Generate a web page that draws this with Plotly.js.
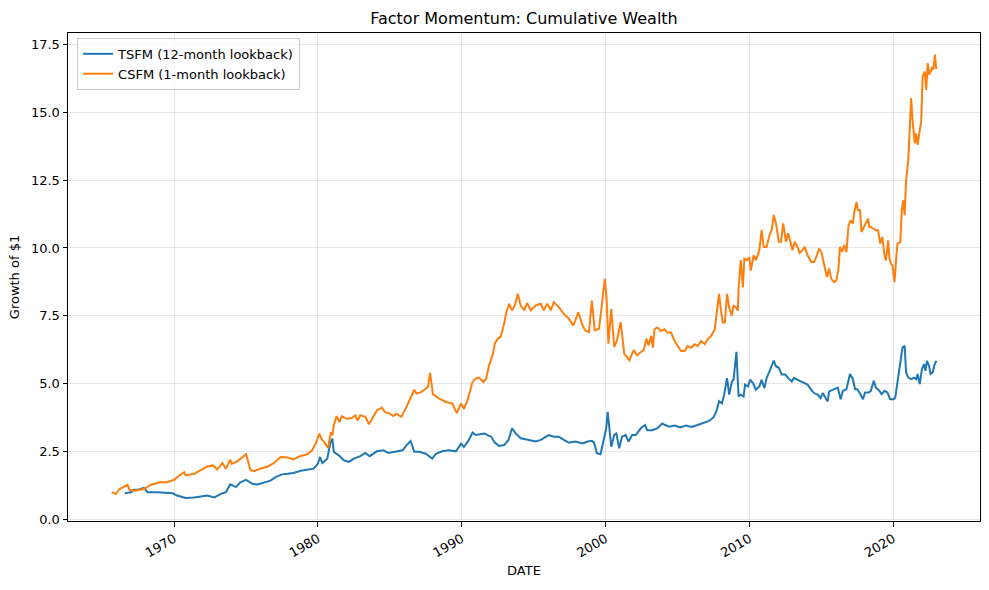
<!DOCTYPE html>
<html>
<head>
<meta charset="utf-8">
<script src="https://cdn.plot.ly/plotly-3.0.1.min.js"></script>
<style>html,body{margin:0;padding:0;background:#fff;}#chart{width:989px;height:590px;}</style>
</head>
<body>
<div id="chart"></div>
<script>
// TSFM (12-month lookback): decimal-year dates and growth of $1
const tsfmYears = [1966.57,1967.0,1967.2,1967.55,1967.9,1968.15,1968.85,1969.5,1969.9,1970.2,1970.8,1971.4,1971.85,1972.3,1972.8,1973.25,1973.6,1973.9,1974.3,1974.6,1975.0,1975.45,1975.8,1976.25,1976.7,1977.05,1977.5,1977.9,1978.3,1978.8,1979.35,1979.7,1980.0,1980.15,1980.3,1980.65,1980.85,1981.0,1981.1,1981.45,1981.8,1982.15,1982.5,1982.95,1983.3,1983.6,1984.1,1984.55,1984.9,1985.45,1985.9,1986.15,1986.45,1986.7,1987.05,1987.5,1987.95,1988.2,1988.65,1989.1,1989.6,1989.95,1990.15,1990.5,1990.75,1990.97,1991.3,1991.6,1991.8,1992.05,1992.3,1992.6,1992.95,1993.25,1993.5,1993.75,1994.1,1994.45,1994.8,1995.15,1995.5,1996.05,1996.4,1996.75,1997.1,1997.45,1997.9,1998.4,1998.75,1999.05,1999.2,1999.4,1999.65,1999.9,2000.05,2000.15,2000.3,2000.4,2000.6,2000.75,2000.95,2001.15,2001.4,2001.6,2001.85,2002.1,2002.45,2002.75,2002.9,2003.25,2003.6,2003.95,2004.15,2004.4,2004.8,2005.2,2005.6,2006.0,2006.4,2006.8,2007.2,2007.5,2007.7,2007.9,2008.1,2008.25,2008.45,2008.6,2008.8,2008.9,2009.1,2009.25,2009.4,2009.6,2009.7,2009.9,2010.05,2010.25,2010.45,2010.7,2010.85,2011.05,2011.2,2011.4,2011.55,2011.7,2011.85,2012.05,2012.25,2012.5,2012.7,2012.95,2013.1,2013.35,2013.6,2013.8,2014.05,2014.3,2014.5,2014.75,2014.95,2015.1,2015.35,2015.45,2015.55,2015.8,2016.0,2016.15,2016.35,2016.5,2016.75,2016.85,2017.0,2017.2,2017.35,2017.5,2017.65,2017.9,2018.05,2018.3,2018.45,2018.65,2018.8,2019.05,2019.2,2019.4,2019.6,2019.8,2020.05,2020.15,2020.3,2020.45,2020.55,2020.65,2020.8,2020.9,2021.05,2021.25,2021.45,2021.6,2021.7,2021.85,2022.0,2022.15,2022.25,2022.35,2022.5,2022.6,2022.75,2022.85,2023.0];
const tsfmValues = [0.95,0.99,1.08,1.09,1.15,0.99,0.99,0.98,0.95,0.87,0.78,0.80,0.83,0.87,0.80,0.93,0.99,1.28,1.18,1.36,1.45,1.30,1.28,1.36,1.42,1.55,1.65,1.67,1.70,1.78,1.82,1.86,2.05,2.29,2.07,2.23,2.78,2.97,2.48,2.35,2.17,2.11,2.23,2.32,2.44,2.32,2.50,2.54,2.44,2.48,2.54,2.72,2.88,2.48,2.48,2.41,2.23,2.41,2.50,2.54,2.50,2.78,2.66,2.92,3.19,3.10,3.14,3.16,3.10,3.04,2.82,2.70,2.73,2.92,3.35,3.16,2.98,2.94,2.92,2.86,2.92,3.10,3.04,3.04,2.92,2.82,2.86,2.79,2.86,2.89,2.82,2.43,2.39,2.92,3.35,3.96,3.28,2.67,3.10,3.16,2.61,3.04,3.10,2.86,3.10,3.10,3.35,3.47,3.28,3.28,3.35,3.53,3.47,3.41,3.45,3.38,3.45,3.40,3.47,3.55,3.62,3.75,3.96,4.35,4.27,4.59,5.20,4.59,5.09,5.14,6.17,4.52,4.59,4.52,4.96,4.89,5.14,5.02,4.77,4.89,5.14,4.83,5.20,5.45,5.64,5.85,5.64,5.58,5.33,5.33,5.20,5.08,5.20,5.14,5.08,5.02,4.96,4.77,4.65,4.59,4.46,4.65,4.46,4.34,4.71,4.77,4.83,4.85,4.42,4.73,4.79,5.04,5.35,5.16,4.79,4.79,4.67,4.42,4.67,4.67,4.73,5.10,4.85,4.73,4.61,4.73,4.67,4.42,4.42,4.48,5.04,5.47,5.84,6.33,6.39,5.41,5.22,5.16,5.22,5.16,5.35,4.98,5.53,5.72,5.47,5.84,5.65,5.35,5.41,5.65,5.84];

// CSFM (1-month lookback)
const csfmYears = [1965.65,1965.95,1966.2,1966.76,1966.9,1967.2,1967.9,1968.4,1969.0,1969.5,1970.0,1970.35,1970.7,1970.8,1971.4,1971.85,1972.3,1972.7,1973.0,1973.35,1973.6,1973.9,1974.0,1974.4,1975.0,1975.3,1975.55,1976.0,1976.5,1976.95,1977.4,1977.9,1978.3,1978.8,1979.25,1979.6,1979.85,1980.1,1980.3,1980.45,1980.7,1980.9,1981.0,1981.1,1981.3,1981.5,1981.65,1982.0,1982.35,1982.6,1982.75,1982.95,1983.3,1983.55,1983.75,1984.1,1984.45,1984.65,1985.0,1985.25,1985.45,1985.8,1986.15,1986.5,1986.7,1986.85,1987.2,1987.65,1987.8,1988.0,1988.45,1988.9,1989.35,1989.65,1989.95,1990.15,1990.4,1990.75,1990.97,1991.2,1991.5,1991.7,1991.9,1992.15,1992.3,1992.5,1992.7,1992.95,1993.1,1993.3,1993.5,1993.7,1993.9,1994.1,1994.35,1994.55,1994.8,1995.15,1995.5,1995.7,1995.95,1996.2,1996.4,1996.75,1997.1,1997.45,1997.75,1997.95,1998.1,1998.4,1998.6,1998.85,1999.05,1999.25,1999.55,1999.7,1999.95,2000.07,2000.2,2000.4,2000.6,2000.8,2001.05,2001.3,2001.5,2001.65,2001.95,2002.2,2002.45,2002.65,2002.85,2003.0,2003.17,2003.3,2003.4,2003.6,2003.87,2004.1,2004.3,2004.55,2004.8,2005.0,2005.25,2005.5,2005.7,2005.95,2006.2,2006.4,2006.65,2006.9,2007.1,2007.35,2007.6,2007.75,2007.9,2008.0,2008.15,2008.3,2008.45,2008.6,2008.77,2008.9,2009.07,2009.2,2009.25,2009.4,2009.55,2009.65,2009.85,2010.0,2010.1,2010.3,2010.45,2010.7,2010.85,2011.0,2011.2,2011.4,2011.55,2011.7,2011.85,2012.05,2012.2,2012.35,2012.55,2012.7,2012.9,2013.0,2013.15,2013.35,2013.5,2013.7,2013.85,2014.05,2014.3,2014.5,2014.7,2014.85,2015.0,2015.2,2015.4,2015.55,2015.7,2015.9,2016.05,2016.2,2016.3,2016.45,2016.6,2016.75,2016.9,2017.05,2017.2,2017.3,2017.45,2017.55,2017.7,2017.8,2017.95,2018.1,2018.25,2018.35,2018.45,2018.65,2018.8,2018.95,2019.1,2019.25,2019.4,2019.5,2019.65,2019.75,2019.85,2019.95,2020.1,2020.2,2020.3,2020.5,2020.6,2020.7,2020.8,2020.9,2021.05,2021.15,2021.25,2021.35,2021.5,2021.6,2021.7,2021.85,2021.95,2022.05,2022.2,2022.3,2022.4,2022.5,2022.7,2022.8,2022.9,2023.0];
const csfmValues = [0.99,0.93,1.11,1.26,1.08,1.05,1.11,1.27,1.36,1.36,1.45,1.61,1.73,1.61,1.67,1.80,1.94,1.98,1.83,2.07,1.86,2.19,2.04,2.13,2.39,1.82,1.77,1.86,1.94,2.07,2.29,2.27,2.20,2.33,2.39,2.54,2.79,3.15,2.91,2.84,2.62,3.21,3.09,3.46,3.80,3.58,3.80,3.70,3.73,3.83,3.64,3.83,3.77,3.50,3.70,4.01,4.11,3.95,3.89,3.80,3.89,3.77,4.13,4.50,4.77,4.63,4.69,4.87,5.39,4.60,4.44,4.32,4.26,3.91,4.26,4.07,4.38,5.06,5.18,5.22,5.06,5.18,5.67,6.05,6.47,6.65,6.72,7.21,7.63,7.94,7.70,7.88,8.31,7.88,7.70,7.97,7.70,7.88,7.94,7.70,7.94,7.70,8.00,7.82,7.57,7.39,7.14,7.39,7.63,7.14,6.96,6.90,8.06,6.96,7.02,7.70,8.86,8.19,6.47,7.76,6.35,6.59,7.27,6.10,5.98,5.86,6.23,6.04,6.16,6.23,6.65,6.41,6.76,6.32,7.00,7.07,6.94,7.00,6.88,6.88,6.57,6.38,6.20,6.20,6.38,6.32,6.45,6.38,6.57,6.45,6.63,6.76,7.00,7.69,8.31,7.81,7.25,7.25,8.31,7.81,7.50,7.87,7.81,7.69,8.49,9.55,8.55,9.61,9.55,9.67,9.17,9.73,9.55,9.92,10.66,10.04,10.04,10.48,10.66,11.22,10.91,10.23,10.23,10.91,10.23,10.54,10.17,9.92,10.23,10.04,9.82,9.92,10.04,9.73,9.48,9.48,9.73,9.98,9.86,9.36,8.93,9.24,8.86,8.74,8.80,9.24,10.04,9.86,10.11,9.85,10.84,11.02,10.90,11.33,11.70,11.39,11.39,10.59,10.77,10.90,11.08,10.77,10.77,10.71,10.65,10.65,10.16,10.40,9.73,9.54,10.28,9.60,9.42,9.36,8.74,9.54,10.16,10.22,11.39,11.76,11.21,12.50,13.24,14.35,15.53,14.72,13.86,14.23,13.80,14.35,14.66,16.33,16.51,15.83,16.82,16.39,16.64,16.58,17.13,16.60];

const yTicks = [0, 2.5, 5, 7.5, 10, 12.5, 15, 17.5];
const yTickLabels = ["0.0", "2.5", "5.0", "7.5", "10.0", "12.5", "15.0", "17.5"];

function toDate(y) {
  const yr = Math.floor(y);
  const start = Date.UTC(yr, 0, 1), end = Date.UTC(yr + 1, 0, 1);
  return new Date(start + (y - yr) * (end - start)).toISOString().slice(0, 10);
}

const font = "DejaVu Sans, sans-serif";
const traces = [
  {x: tsfmYears.map(toDate), y: tsfmValues, type: "scatter", mode: "lines",
   name: "TSFM (12-month lookback)", line: {color: "#1f77b4", width: 2}},
  {x: csfmYears.map(toDate), y: csfmValues, type: "scatter", mode: "lines",
   name: "CSFM (1-month lookback)", line: {color: "#ff7f0e", width: 2}}
];

const axisCommon = {
  showline: true, mirror: true, linecolor: "#000", linewidth: 1,
  ticks: "outside", ticklen: 4.5, tickwidth: 1, tickcolor: "#000",
  showgrid: true, gridcolor: "rgba(176,176,176,0.3)", gridwidth: 1,
  zeroline: false, tickfont: {family: font, size: 13, color: "#000"}
};

const layout = {
  width: 989, height: 590,
  margin: {l: 68, r: 9, t: 33, b: 69},
  paper_bgcolor: "#fff", plot_bgcolor: "#fff",
  font: {family: font, size: 13, color: "#000"},
  title: {text: "Factor Momentum: Cumulative Wealth", font: {family: font, size: 16, color: "#000"},
          x: 0.5, xref: "paper", y: 1 - 18/590, yref: "container", yanchor: "middle"},
  xaxis: Object.assign({}, axisCommon, {
    type: "date", range: ["1962-08-15", "2026-01-15"],
    tick0: "1970-01-01", dtick: "M120", tickformat: "%Y", tickangle: -30,
    title: {text: "DATE", font: {family: font, size: 13, color: "#000"}, standoff: 6}
  }),
  yaxis: Object.assign({}, axisCommon, {
    range: [-0.07, 17.93], tickvals: yTicks, ticktext: yTickLabels,
    title: {text: "Growth of $1", font: {family: font, size: 13, color: "#000"}, standoff: 8}
  }),
  legend: {x: 0.01, y: 0.99, xanchor: "left", yanchor: "top",
           bgcolor: "rgba(255,255,255,0.8)", bordercolor: "#cccccc", borderwidth: 1,
           font: {family: font, size: 13, color: "#000"}},
  showlegend: true, hovermode: false
};

Plotly.newPlot("chart", traces, layout, {displayModeBar: false, staticPlot: true});
</script>
</body>
</html>
